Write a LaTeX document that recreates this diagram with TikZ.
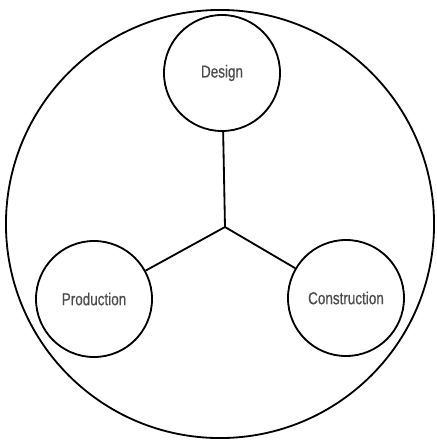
\documentclass[tikz,border=0pt]{standalone}
\usepackage{fontspec}
\setmainfont{Liberation Sans}[FakeStretch=0.78, FakeBold=0.6]
\usetikzlibrary{positioning}

\begin{document}
\begin{tikzpicture}[
    x=0.025cm, y=-0.025cm,
    line width=1.3pt,
    phase/.style={circle, draw, minimum size=2.9cm, inner sep=0pt, font=\fontsize{12.3}{14}\selectfont, text=black!70},
    whole/.style={circle, draw, minimum size=10.7cm, inner sep=0pt}
]
    \useasboundingbox (0,0) rectangle (436,442);

    % Outer circle
    \node[whole] (all) at (220,224) {};

    % Phases
    \node[phase] (design) at (222,73) {Design};
    \node[phase] (production) at (94,299) {Production};
    \node[phase] (construction) at (346,298) {Construction};

    % Links
    \coordinate (hub) at (225,227);
    \draw (design) -- (hub);
    \draw (hub) -- (production);
    \draw (hub) -- (construction);

\end{tikzpicture}
\end{document}
